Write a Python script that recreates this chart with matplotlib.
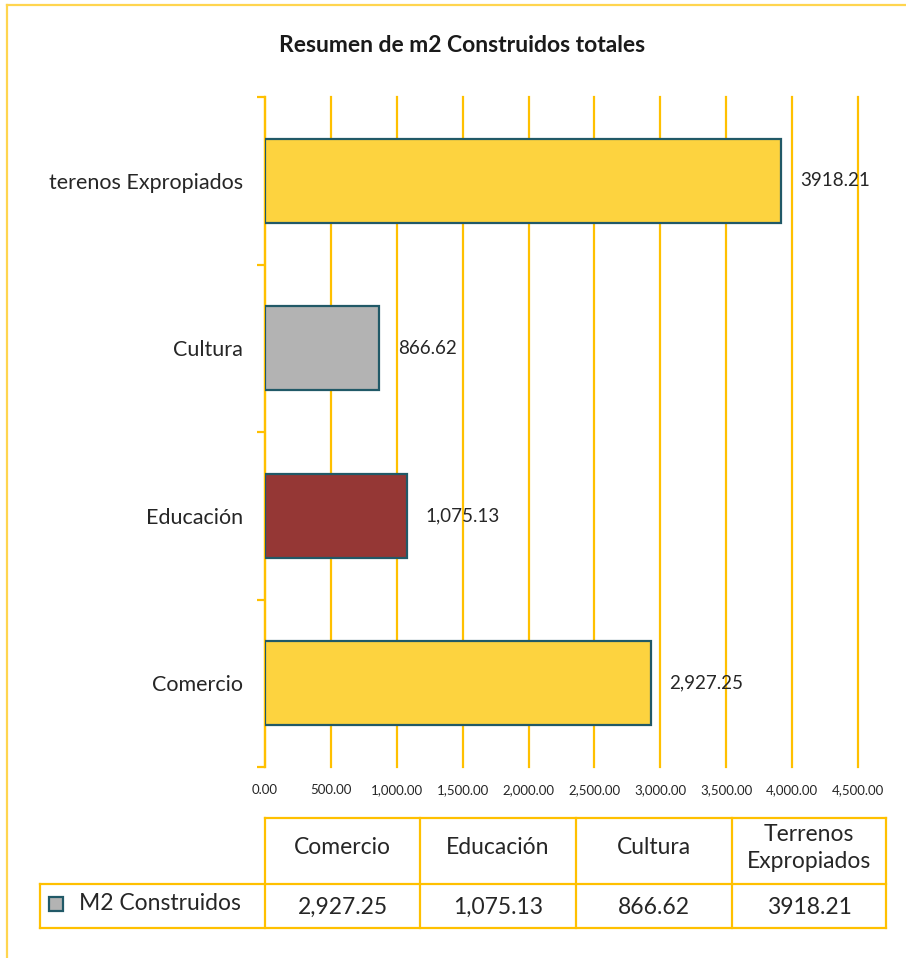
import matplotlib.pyplot as plt
from matplotlib.lines import Line2D
from matplotlib.patches import Rectangle

plt.rcParams['font.family'] = ['Lato', 'DejaVu Sans']

# data
categories = ['Comercio', 'Educación', 'Cultura', 'terenos Expropiados']
table_headers = ['Comercio', 'Educación', 'Cultura', 'Terrenos\nExpropiados']
m2_values = [2927.25, 1075.13, 866.62, 3918.21]
value_text = ['2,927.25', '1,075.13', '866.62', '3918.21']
bar_colors = ['#FDD33F', '#953735', '#B3B3B3', '#FDD33F']
series_name = 'M2 Construidos'
x_ticks = [0, 500, 1000, 1500, 2000, 2500, 3000, 3500, 4000, 4500]

grid_col = '#FFC000'
edge_col = '#215967'
text_col = '#262626'

W, H = 906, 958
fig = plt.figure(figsize=(W / 100, H / 100), dpi=100)

def fx(px):
    return px / W

def fy(py):
    return 1 - py / H

# outer frame (top and left only)
fig.add_artist(Line2D([fx(7), 1], [fy(5), fy(5)], color='#FFD54F', lw=1.6))
fig.add_artist(Line2D([fx(7), fx(7)], [fy(5), 0], color='#FFD54F', lw=1.6))

fig.text(fx(462), fy(46), 'Resumen de m2 Construidos totales', ha='center', va='center',
         fontsize=16.5, fontweight='bold', color='#1a1a1a')

ax = fig.add_axes([fx(265), fy(767), fx(858) - fx(265), fy(97) - fy(767)])
ypos = list(range(len(categories)))
ax.barh(ypos, m2_values, height=0.5, color=bar_colors, edgecolor=edge_col,
        linewidth=1.6, zorder=3)
for y, v, t in zip(ypos, m2_values, value_text):
    ax.text(v + 140, y, t, ha='left', va='center', fontsize=13.5, color=text_col, zorder=4)

ax.set_xlim(0, 4500)
ax.set_ylim(-0.5, len(categories) - 0.5)
ax.set_xticks(x_ticks)
ax.set_xticklabels([f'{t:,.2f}' for t in x_ticks], fontsize=9.5, color=text_col)
ax.tick_params(axis='x', length=0, pad=12)
ax.set_yticks(ypos)
ax.set_yticklabels(categories, fontsize=15.5, color=text_col)
ax.tick_params(axis='y', which='major', length=0, pad=16)
ax.set_yticks([i - 0.5 for i in range(len(categories) + 1)], minor=True)
ax.tick_params(axis='y', which='minor', length=6, width=1.6, color=grid_col, direction='out')
ax.grid(axis='x', color=grid_col, lw=1.6, zorder=1)
for gl in ax.get_xgridlines():
    gl.set_clip_on(False)
for s in ['top', 'right', 'bottom']:
    ax.spines[s].set_visible(False)
ax.spines['left'].set_color(grid_col)
ax.spines['left'].set_linewidth(1.6)

# data table under the chart
col_edges = [265, 420, 576, 732, 886]
tcol = '#FFC000'
lw = 1.6
fig.add_artist(Line2D([fx(265), fx(886)], [fy(818), fy(818)], color=tcol, lw=lw))
fig.add_artist(Line2D([fx(40), fx(886)], [fy(884), fy(884)], color=tcol, lw=lw))
fig.add_artist(Line2D([fx(40), fx(886)], [fy(928), fy(928)], color=tcol, lw=lw))
fig.add_artist(Line2D([fx(40), fx(40)], [fy(884), fy(928)], color=tcol, lw=lw))
for x in col_edges:
    fig.add_artist(Line2D([fx(x), fx(x)], [fy(818), fy(928)], color=tcol, lw=lw))

for i, (hdr, txt) in enumerate(zip(table_headers, value_text)):
    cx = (col_edges[i] + col_edges[i + 1]) / 2
    fig.text(fx(cx), fy(848), hdr, ha='center', va='center', fontsize=16.5,
             color=text_col, linespacing=1.3)
    fig.text(fx(cx), fy(907), txt, ha='center', va='center', fontsize=16.5, color=text_col)

fig.add_artist(Rectangle((fx(49), fy(911)), fx(63) - fx(49), fy(897) - fy(911),
                         facecolor=bar_colors[2], edgecolor=edge_col, lw=1.6))
fig.text(fx(79), fy(903), series_name, ha='left', va='center', fontsize=16.5, color=text_col)

fig.savefig('out.png', dpi=100)
